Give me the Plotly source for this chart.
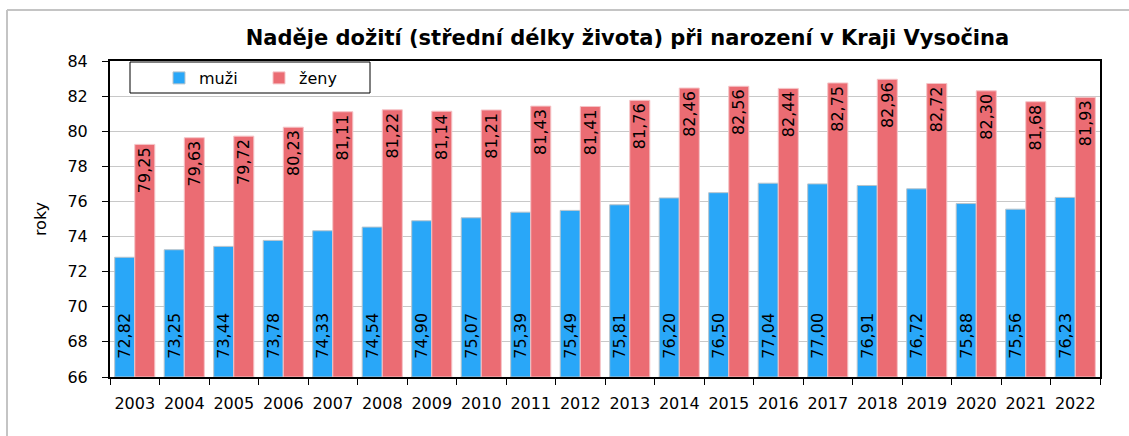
import plotly.graph_objects as go

years = [str(y) for y in range(2003, 2023)]
muzi = [72.82, 73.25, 73.44, 73.78, 74.33, 74.54, 74.90, 75.07, 75.39, 75.49,
        75.81, 76.20, 76.50, 77.04, 77.00, 76.91, 76.72, 75.88, 75.56, 76.23]
zeny = [79.25, 79.63, 79.72, 80.23, 81.11, 81.22, 81.14, 81.21, 81.43, 81.41,
        81.76, 82.46, 82.56, 82.44, 82.75, 82.96, 82.72, 82.30, 81.68, 81.93]
y_ticks = [66, 68, 70, 72, 74, 76, 78, 80, 82, 84]
y_min, y_max = 66, 84

def fmt(v):
    return f"{v:.2f}".replace(".", ",")

FONT = "'DejaVu Sans', sans-serif"
NB = "\u00a0"

fig = go.Figure()
fig.add_trace(go.Bar(
    x=years, y=[v - y_min for v in muzi], base=y_min, name="muži",
    marker=dict(color="#29A7F8", line=dict(color="#B8C4CC", width=1)),
    text=[fmt(v) for v in muzi], texttemplate=NB * 3 + "%{text}",
    textposition="inside", insidetextanchor="start",
    textangle=-90, textfont=dict(color="black", size=16, family=FONT),
    constraintext="none",
))
fig.add_trace(go.Bar(
    x=years, y=[v - y_min for v in zeny], base=y_min, name="ženy",
    marker=dict(color="#EB6C73", line=dict(color="#F5C4C7", width=1)),
    text=[fmt(v) for v in zeny], textposition="inside", insidetextanchor="end",
    textangle=-90, textfont=dict(color="black", size=16, family=FONT),
    constraintext="none",
))

L, R, T, B = 110, 1100, 61, 377
W, H = 1129, 436

def px(x):
    return (x - L) / (R - L)

def py(y):
    return (B - y) / (B - T)

fig.update_layout(
    width=W, height=H,
    margin=dict(l=L, r=W - R, t=T, b=H - B, autoexpand=False),
    paper_bgcolor="white", plot_bgcolor="white",
    barmode="group", bargap=0.19, bargroupgap=0,
    font=dict(family=FONT, size=16, color="black"),
    uniformtext=dict(minsize=16, mode="show"),
    title=dict(
        text="<b>Naděje dožití (střední délky života) při narození v Kraji Vysočina</b>",
        x=px(627.5), xref="paper", xanchor="center",
        y=1 - 38 / H, yanchor="middle",
        font=dict(size=21, family=FONT, color="black"),
    ),
    showlegend=True,
    legend=dict(
        orientation="h", x=px(159), y=py(61), xanchor="left", yanchor="top",
        borderwidth=0, bgcolor="rgba(0,0,0,0)",
        font=dict(size=16, family=FONT), itemwidth=30, entrywidth=55,
        traceorder="normal",
    ),
    xaxis=dict(
        type="category", showline=True, linecolor="black", linewidth=2,
        mirror=True, ticks="outside", ticklen=6, tickcolor="black",
        tickson="boundaries", showgrid=False, tickangle=0, automargin=False,
        ticklabelstandoff=11,
        tickfont=dict(size=16, family=FONT),
    ),
    yaxis=dict(
        range=[y_min, y_max], tickvals=y_ticks, ticktext=[str(v) for v in y_ticks],
        showline=True, linecolor="black", linewidth=2, mirror=True,
        ticks="outside", ticklen=6, tickcolor="black", automargin=False,
        ticklabelstandoff=11,
        showgrid=True, gridcolor="#C8C8C8", gridwidth=1,
        tickfont=dict(size=16, family=FONT),
        title=dict(text="roky", font=dict(size=16, family=FONT), standoff=17),
    ),
    shapes=[
        dict(type="line", xref="paper", yref="paper",
             x0=px(7), x1=px(W), y0=py(10), y1=py(10),
             line=dict(color="#C4C4C4", width=2), layer="below"),
        dict(type="line", xref="paper", yref="paper",
             x0=px(7), x1=px(7), y0=py(10), y1=py(H),
             line=dict(color="#C4C4C4", width=2), layer="below"),
        dict(type="rect", xref="paper", yref="paper",
             x0=px(130), x1=px(370), y0=py(93), y1=py(62),
             line=dict(color="black", width=1), fillcolor="white",
             layer="above"),
    ],
)

fig.write_html("out.html", config={"displayModeBar": False},
               post_script="document.body.style.margin='0';")
